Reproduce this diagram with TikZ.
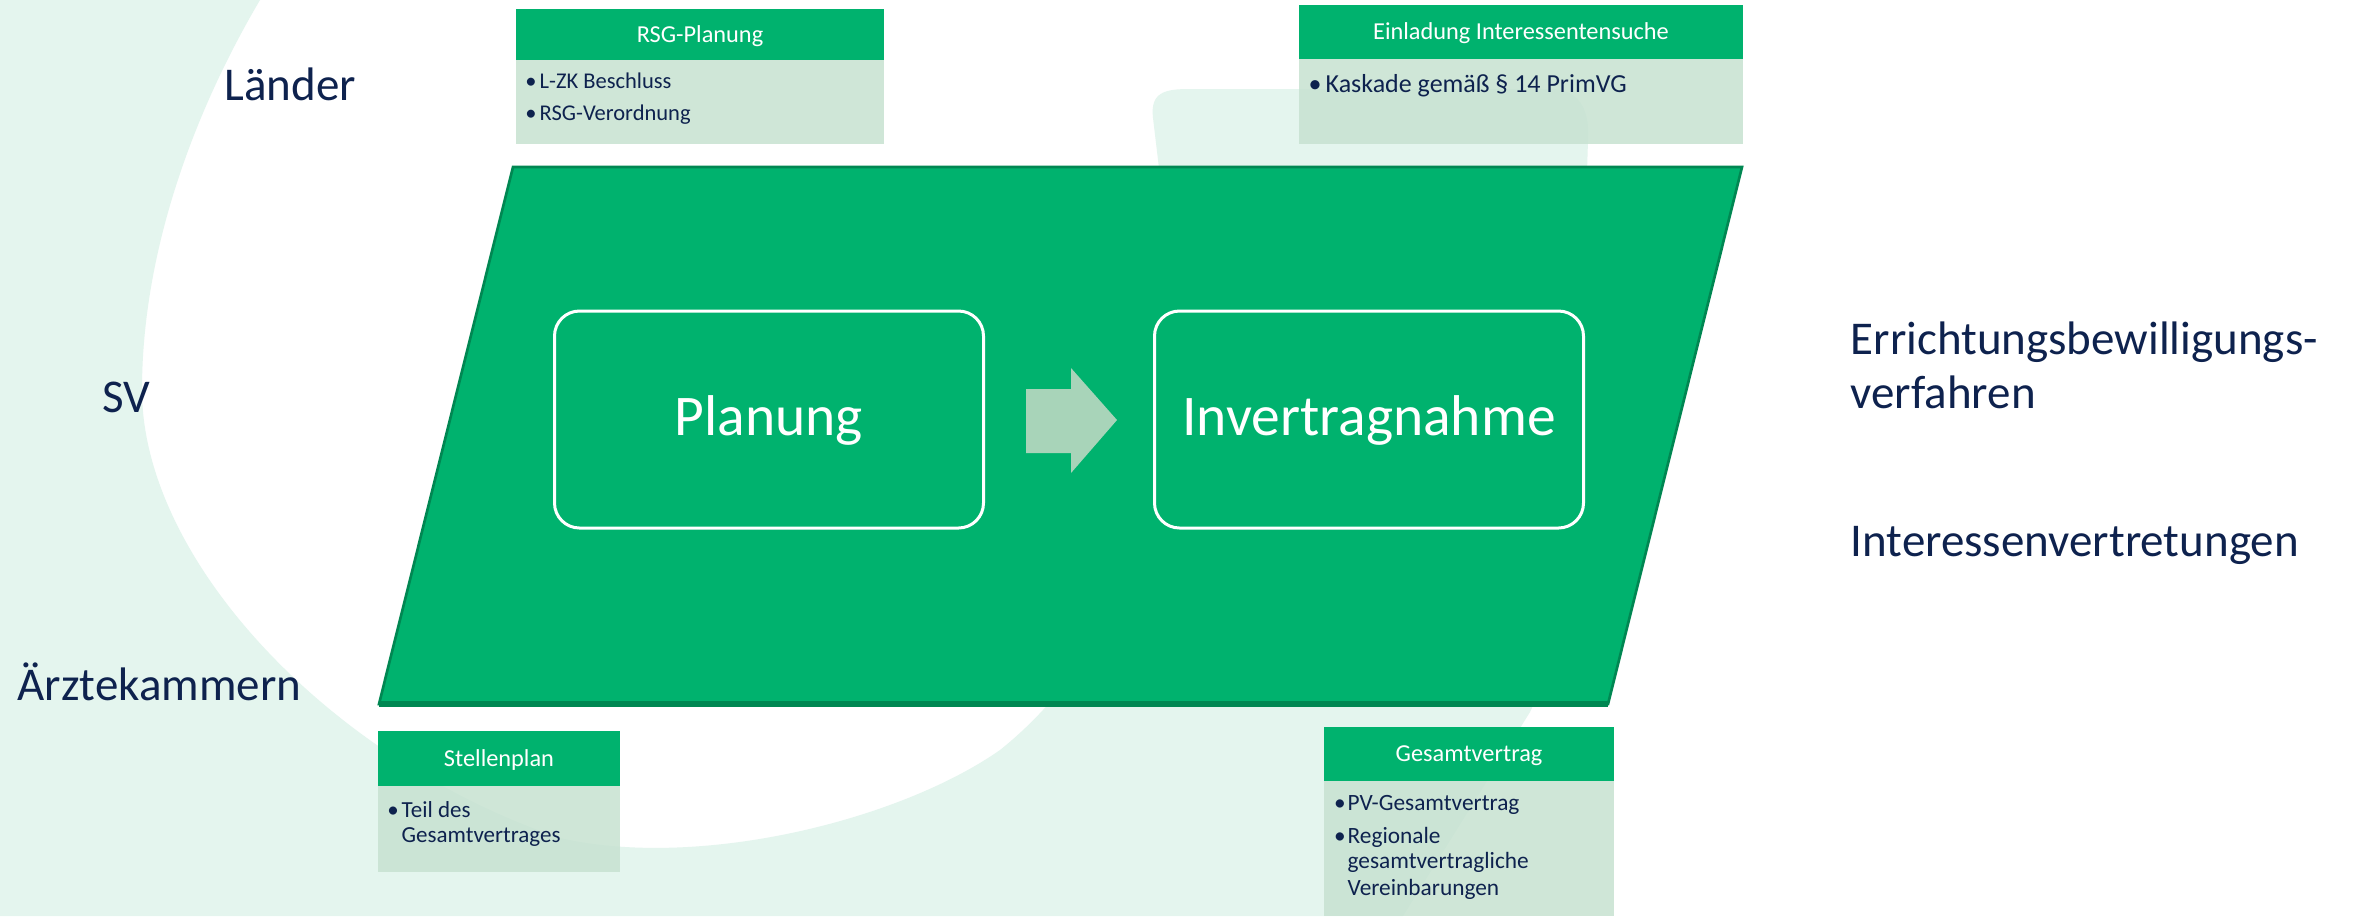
\documentclass[tikz,border=0pt]{standalone}
\usepackage{fontspec}
\setmainfont{Carlito}
\definecolor{mint}{RGB}{228,245,238}
\definecolor{pgreen}{RGB}{0,178,110}
\definecolor{pedge}{RGB}{0,135,82}
\definecolor{lightbody}{RGB}{199,226,209}
\definecolor{navy}{RGB}{14,34,78}
\definecolor{arrowgreen}{RGB}{168,212,185}
\begin{document}
\begin{tikzpicture}[x=0.3pt,y=-0.3pt,
  sidelabel/.style={font=\fontsize{14.1}{16.2}\selectfont, text=navy, anchor=base west, inner sep=0pt},
  procbox/.style={draw=white, line width=0.9pt, rounded corners=7.5pt, text=white,
    font=\fontsize{17.25}{20}\selectfont, inner sep=0pt, text height=9.3pt, text depth=0pt,
    minimum width=128.7pt, minimum height=65.1pt},
  headbox/.style={fill=pgreen, text=white, inner sep=0pt, font=\fontsize{7.3}{8.6}\selectfont,
    text height=4.5pt, text depth=0pt},
  bodybox/.style={fill=lightbody, fill opacity=0.85, inner sep=0pt},
  bulletmark/.style={anchor=base, inner sep=0pt, text=navy},
  itemtext/.style={anchor=base west, inner sep=0pt, text=navy},
]
% canvas
\path[use as bounding box] (0,0) rectangle (2353,916);
\fill[white] (0,0) rectangle (2353,916);
% mint background ring
\fill[mint] (0,0) -- (260,0)
  .. controls (195,110) and (142,250) .. (142,390)
  .. controls (142,560) and (330,760) .. (560,838)
  .. controls (700,870) and (900,820) .. (1000,750)
  .. controls (1150,630) and (1185,420) .. (1170,260)
  -- (1153,118)
  .. controls (1150,92) and (1165,89) .. (1190,89) -- (1550,89)
  .. controls (1578,89) and (1590,108) .. (1588,140)
  .. controls (1580,400) and (1565,640) .. (1530,712)
  -- (1403,916)
  -- (0,916) -- cycle;

% main parallelogram
\coordinate (pTL) at (513,167);
\coordinate (pTR) at (1742,167);
\coordinate (pBR) at (1608,704);
\coordinate (pBL) at (379,704);
\filldraw[fill=pgreen, draw=pedge, line width=0.8pt] (pTL) -- (pTR) -- (pBR) -- (pBL) -- cycle;
\draw[pedge, line width=1.6pt] (pBL) -- (pBR);

% process boxes
\node[procbox] (plan) at (769,419.5) {Planung};
\node[procbox] (inv) at (1369,419.5) {Invertragnahme};
\fill[arrowgreen] (1026,389) -- (1071,389) -- (1071,368) -- (1117,420) -- (1071,473) -- (1071,453) -- (1026,453) -- cycle;

% RSG-Planung
\node[headbox, minimum width=110.4pt, minimum height=15.3pt] (rsgh) at (700,34.5) {RSG-Planung};
\node[bodybox, minimum width=110.4pt, minimum height=25.2pt] (rsgb) at (700,102) {};
\begin{scope}[font=\fontsize{6.75}{8}\selectfont]
\node[bulletmark] (rsgb1) at (531,88) {•};
\node[itemtext] (rsgt1) at (539,88) {L-ZK Beschluss};
\node[bulletmark] (rsgb2) at (531,120) {•};
\node[itemtext] (rsgt2) at (539,120) {RSG-Verordnung};
\end{scope}

% Einladung Interessentensuche
\node[headbox, minimum width=133.2pt, minimum height=16.2pt] (einh) at (1521,32) {Einladung Interessentensuche};
\node[bodybox, minimum width=133.2pt, minimum height=25.5pt] (einb) at (1521,101.5) {};
\begin{scope}[font=\fontsize{7.8}{9}\selectfont]
\node[bulletmark] (einb1) at (1315,92) {•};
\node[itemtext] (eint1) at (1325,92) {Kaskade gemäß § 14 PrimVG};
\end{scope}

% Stellenplan
\node[headbox, minimum width=72.6pt, minimum height=16.5pt] (steh) at (499,758.5) {Stellenplan};
\node[bodybox, minimum width=72.6pt, minimum height=25.8pt] (steb) at (499,829) {};
\begin{scope}[font=\fontsize{6.9}{8}\selectfont]
\node[bulletmark] (steb1) at (393,817) {•};
\node[itemtext] (stet1) at (401,817) {Teil des};
\node[itemtext] (stet2) at (401,842) {Gesamtvertrages};
\end{scope}

% Gesamtvertrag
\node[headbox, minimum width=87pt, minimum height=16.2pt] (gesh) at (1469,754) {Gesamtvertrag};
\node[bodybox, minimum width=87pt, minimum height=40.5pt] (gesb) at (1469,848.5) {};
\begin{scope}[font=\fontsize{7}{8}\selectfont]
\node[bulletmark] (gesb1) at (1340,810) {•};
\node[itemtext] (gest1) at (1347,810) {PV-Gesamtvertrag};
\node[bulletmark] (gesb2) at (1340,843) {•};
\node[itemtext] (gest2) at (1347,843) {Regionale};
\node[itemtext] (gest3) at (1347,868) {gesamtvertragliche};
\node[itemtext] (gest4) at (1347,895) {Vereinbarungen};
\end{scope}

% side labels
\node[sidelabel] (laender) at (224,100) {Länder};
\node[sidelabel] (sv) at (102,412) {SV};
\node[sidelabel] (aerzte) at (17,700) {Ärztekammern};
\node[sidelabel] (erri1) at (1850,354) {Errichtungsbewilligungs-};
\node[sidelabel] (erri2) at (1850,408) {verfahren};
\node[sidelabel] (interess) at (1850,556) {Interessenvertretungen};
\end{tikzpicture}
\end{document}
